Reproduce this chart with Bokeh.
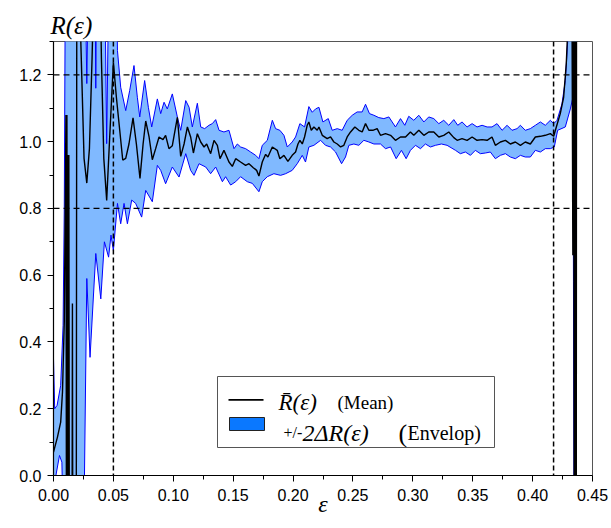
from bokeh.plotting import figure
from bokeh.models import Span, BoxAnnotation, Label, FixedTicker, NumeralTickFormatter, Range1d, Title
from bokeh.embed import file_html
from bokeh.resources import INLINE

# ---------------- data ----------------
mean_x = [0.0000, 0.0033, 0.0060, 0.0075, 0.0090, 0.0100, 0.0104, 0.0108, 0.0112, 0.0116,
          0.0120, 0.0124, 0.0128, 0.0132, 0.0155, 0.0158, 0.0161, 0.0190, 0.0196, 0.0215,
          0.0228, 0.0255, 0.0278, 0.0300, 0.0322, 0.0345, 0.0385, 0.0400, 0.0420, 0.0444,
          0.0470, 0.0500, 0.0525, 0.0553, 0.0578, 0.0603, 0.0630, 0.0664, 0.0692, 0.0722,
          0.0748, 0.0770, 0.0798, 0.0825, 0.0853, 0.0881, 0.0914, 0.0936, 0.0964, 0.0992,
          0.1034, 0.1062, 0.1090, 0.1118, 0.1145, 0.1168, 0.1201, 0.1229, 0.1257, 0.1279,
          0.1312, 0.1340, 0.1368, 0.1390, 0.1423, 0.1465, 0.1493, 0.1521, 0.1562, 0.1604,
          0.1632, 0.1668, 0.1696, 0.1715, 0.1743, 0.1771, 0.1790, 0.1827, 0.1868, 0.1890,
          0.1924, 0.1957, 0.1993, 0.2021, 0.2041, 0.2057, 0.2077, 0.2096, 0.2118, 0.2132,
          0.2152, 0.2174, 0.2202, 0.2216, 0.2244, 0.2285, 0.2313, 0.2341, 0.2369, 0.2397,
          0.2424, 0.2452, 0.2480, 0.2516, 0.2549, 0.2577, 0.2605, 0.2633, 0.2666, 0.2702,
          0.2730, 0.2772, 0.2814, 0.2855, 0.2897, 0.2939, 0.2980, 0.3008, 0.3050, 0.3092,
          0.3133, 0.3175, 0.3217, 0.3258, 0.3300, 0.3342, 0.3370, 0.3411, 0.3453, 0.3495,
          0.3536, 0.3578, 0.3620, 0.3661, 0.3689, 0.3731, 0.3773, 0.3814, 0.3856, 0.3898,
          0.3939, 0.3981, 0.4023, 0.4065, 0.4106, 0.4148, 0.4176, 0.4198, 0.4231, 0.4259,
          0.4281, 0.4301, 0.4325, 0.4336, 0.4342, 0.4348, 0.4352, 0.4356, 0.4360, 0.4364,
          0.4368]
mean_y = [0.070, 0.115, 0.160, 0.250, 0.460, 0.900, 1.080, -0.200, 1.080, -0.200,
          0.960, -0.200, 0.960, -0.200, -0.200, 0.515, -0.200, -0.200, 2.000, 2.000,
          1.300, 0.950, 0.876, 0.980, 1.250, 1.600, 1.600, 1.250, 0.950, 0.824,
          1.020, 1.238, 1.133, 1.034, 0.945, 0.950, 0.993, 1.071, 0.993, 0.890,
          0.993, 1.062, 1.014, 0.946, 0.979, 1.014, 1.006, 1.019, 0.979, 0.988,
          1.073, 0.956, 0.993, 1.044, 1.014, 0.966, 1.024, 0.999, 0.984, 0.993,
          0.964, 1.004, 0.989, 0.949, 0.974, 0.939, 0.926, 0.949, 0.939, 0.929,
          0.934, 0.922, 0.914, 0.897, 0.939, 0.962, 0.954, 0.984, 0.974, 0.949,
          0.959, 0.941, 0.959, 0.969, 0.993, 1.004, 0.993, 1.014, 1.049, 1.059,
          1.034, 1.044, 1.034, 1.044, 1.019, 1.009, 1.014, 0.999, 0.993, 0.984,
          0.989, 1.014, 1.029, 1.044, 1.034, 1.029, 1.054, 1.034, 1.034, 1.039,
          1.019, 1.024, 1.019, 1.004, 1.014, 1.014, 1.029, 1.019, 1.034, 1.019,
          1.029, 1.029, 1.014, 1.019, 1.029, 1.012, 1.004, 1.009, 1.004, 1.014,
          1.004, 1.006, 1.004, 1.014, 0.989, 0.999, 1.004, 0.993, 0.999, 0.989,
          0.999, 0.993, 1.014, 1.016, 1.019, 1.024, 1.016, 1.044, 1.084, 1.133,
          1.233, 1.400, 1.800, 0.660, 1.800, -0.500, 2.500, -0.500, 2.500, -0.500,
          2.500]

upper_x = [0.0000, 0.0010, 0.0030, 0.0060, 0.0080, 0.0090, 0.0100, 0.0260, 0.0278, 0.0295,
           0.0345, 0.0353, 0.0362, 0.0425, 0.0444, 0.0465, 0.0520, 0.0534, 0.0561, 0.0603,
           0.0636, 0.0672, 0.0700, 0.0720, 0.0761, 0.0792, 0.0820, 0.0867, 0.0895, 0.0923,
           0.0950, 0.0992, 0.1034, 0.1062, 0.1104, 0.1132, 0.1159, 0.1201, 0.1229, 0.1262,
           0.1298, 0.1326, 0.1354, 0.1382, 0.1423, 0.1465, 0.1507, 0.1535, 0.1562, 0.1604,
           0.1646, 0.1688, 0.1715, 0.1743, 0.1785, 0.1827, 0.1854, 0.1890, 0.1924, 0.1952,
           0.1993, 0.2021, 0.2057, 0.2096, 0.2132, 0.2160, 0.2188, 0.2216, 0.2249, 0.2294,
           0.2327, 0.2369, 0.2410, 0.2452, 0.2494, 0.2535, 0.2577, 0.2605, 0.2638, 0.2675,
           0.2716, 0.2758, 0.2800, 0.2855, 0.2897, 0.2933, 0.2966, 0.3008, 0.3050, 0.3092,
           0.3133, 0.3175, 0.3217, 0.3258, 0.3300, 0.3342, 0.3375, 0.3411, 0.3453, 0.3495,
           0.3536, 0.3578, 0.3620, 0.3661, 0.3703, 0.3745, 0.3787, 0.3828, 0.3870, 0.3898,
           0.3939, 0.3981, 0.4023, 0.4065, 0.4106, 0.4148, 0.4176, 0.4204, 0.4245, 0.4273,
           0.4293, 0.4310, 0.4370]
upper_y = [0.350, 0.200, 0.210, 0.270, 0.450, 0.800, 1.600, 1.600, 1.174, 1.600,
           1.600, 1.160, 1.600, 1.600, 0.994, 1.600, 1.600, 1.273, 1.163, 1.093,
           1.153, 1.228, 1.133, 1.074, 1.183, 1.103, 1.044, 1.128, 1.084, 1.118,
           1.098, 1.143, 1.074, 1.034, 1.123, 1.103, 1.044, 1.115, 1.044, 1.039,
           1.049, 1.054, 1.066, 1.034, 1.029, 1.034, 0.979, 0.993, 0.984, 0.979,
           0.969, 0.959, 0.949, 0.989, 1.004, 1.064, 1.039, 1.034, 1.019, 0.984,
           0.999, 1.014, 1.054, 1.044, 1.105, 1.088, 1.098, 1.103, 1.059, 1.069,
           1.034, 1.039, 1.034, 1.064, 1.079, 1.089, 1.089, 1.112, 1.084, 1.079,
           1.072, 1.069, 1.074, 1.044, 1.069, 1.049, 1.076, 1.064, 1.079, 1.059,
           1.074, 1.069, 1.054, 1.064, 1.049, 1.066, 1.049, 1.059, 1.044, 1.054,
           1.044, 1.049, 1.044, 1.044, 1.054, 1.034, 1.049, 1.034, 1.039, 1.049,
           1.034, 1.039, 1.049, 1.059, 1.049, 1.064, 1.054, 1.064, 1.113, 1.183,
           1.300, 1.600, 1.600]

lower_x = [0.0000, 0.0020, 0.0050, 0.0070, 0.0085, 0.0252, 0.0278, 0.0305, 0.0353, 0.0395,
           0.0425, 0.0460, 0.0480, 0.0500, 0.0534, 0.0561, 0.0589, 0.0617, 0.0653, 0.0686,
           0.0736, 0.0770, 0.0825, 0.0867, 0.0895, 0.0936, 0.0992, 0.1048, 0.1104, 0.1145,
           0.1173, 0.1215, 0.1271, 0.1312, 0.1354, 0.1410, 0.1437, 0.1479, 0.1521, 0.1562,
           0.1618, 0.1660, 0.1715, 0.1743, 0.1785, 0.1840, 0.1896, 0.1938, 0.1993, 0.2035,
           0.2077, 0.2104, 0.2132, 0.2174, 0.2230, 0.2271, 0.2313, 0.2355, 0.2405, 0.2438,
           0.2466, 0.2508, 0.2549, 0.2591, 0.2633, 0.2675, 0.2730, 0.2772, 0.2814, 0.2861,
           0.2905, 0.2944, 0.2980, 0.3022, 0.3064, 0.3105, 0.3147, 0.3189, 0.3239, 0.3286,
           0.3356, 0.3397, 0.3439, 0.3481, 0.3522, 0.3564, 0.3606, 0.3647, 0.3689, 0.3731,
           0.3773, 0.3814, 0.3856, 0.3898, 0.3939, 0.3981, 0.4023, 0.4065, 0.4106, 0.4148,
           0.4181, 0.4209, 0.4273, 0.4315, 0.4337, 0.4341, 0.4348, 0.4370]
lower_y = [0.000, 0.000, 0.060, 0.040, -0.200, -0.200, 0.590, 0.354, 0.665, 0.529,
           0.700, 0.654, 0.720, 0.674, 0.815, 0.754, 0.815, 0.754, 0.825, 0.815,
           0.774, 0.854, 0.820, 0.929, 0.914, 0.874, 0.924, 0.894, 0.964, 0.914,
           0.899, 0.934, 0.924, 0.904, 0.924, 0.880, 0.895, 0.870, 0.880, 0.895,
           0.880, 0.875, 0.850, 0.880, 0.895, 0.904, 0.899, 0.904, 0.914, 0.934,
           0.959, 0.939, 0.984, 0.989, 1.004, 0.989, 0.984, 0.969, 0.934, 0.954,
           0.989, 0.993, 0.989, 1.004, 0.999, 0.993, 0.993, 0.979, 0.984, 0.949,
           0.974, 0.949, 0.974, 0.989, 0.979, 0.993, 0.984, 0.989, 0.993, 0.989,
           0.974, 0.964, 0.969, 0.959, 0.974, 0.964, 0.966, 0.969, 0.949, 0.959,
           0.964, 0.954, 0.949, 0.959, 0.954, 0.954, 0.974, 0.969, 0.979, 0.979,
           0.984, 1.034, 1.044, 1.098, 1.133, 0.580, -0.500, -0.500]

hlines = [0.8, 1.2]
vlines = [0.05, 0.4175]

x_ticks = [0.00, 0.05, 0.10, 0.15, 0.20, 0.25, 0.30, 0.35, 0.40, 0.45]
x_minor = [0.025, 0.075, 0.125, 0.175, 0.225, 0.275, 0.325, 0.375, 0.425]
y_ticks = [0.0, 0.2, 0.4, 0.6, 0.8, 1.0, 1.2]
y_minor = [0.1, 0.3, 0.5, 0.7, 0.9, 1.1, 1.3]

X_MAX, Y_MAX = 0.45, 1.3

# ---------------- layout (page pixels) ----------------
W, H = 611, 528
F_LEFT, F_RIGHT, F_TOP, F_BOTTOM = 53.0, 592.0, 41.0, 475.0   # frame on the page


def dx(px):
    return (px - F_LEFT) / (F_RIGHT - F_LEFT) * X_MAX


def dy(py):
    return (F_BOTTOM - py) / (F_BOTTOM - F_TOP) * Y_MAX


p = figure(width=W, height=H, output_backend="svg", toolbar_location=None,
           x_range=Range1d(0, X_MAX), y_range=Range1d(0, Y_MAX),
           min_border_left=int(F_LEFT), min_border_right=int(W - F_RIGHT),
           min_border_top=int(F_TOP), min_border_bottom=int(H - F_BOTTOM))
p.title = Title(text="R(\u03b5)", align="left", offset=-3, standoff=6,
                text_font="Liberation Serif", text_font_style="italic",
                text_font_size="25px", text_color="black")
p.xgrid.visible = False
p.ygrid.visible = False
p.background_fill_color = "white"
p.border_fill_color = "white"
p.outline_line_color = "#555555"
p.outline_line_width = 1

for ax, ticks, minor, fmt in ((p.xaxis[0], x_ticks, x_minor, "0.00"),
                              (p.yaxis[0], y_ticks, y_minor, "0.0")):
    ax.ticker = FixedTicker(ticks=ticks, minor_ticks=minor)
    ax.formatter = NumeralTickFormatter(format=fmt)
    ax.axis_line_color = "black"
    ax.axis_line_width = 1.2
    ax.major_tick_line_color = "black"
    ax.minor_tick_line_color = "black"
    ax.major_tick_out = 6
    ax.major_tick_in = 0
    ax.minor_tick_out = 4
    ax.minor_tick_in = 0
    ax.major_label_text_font = "Liberation Sans"
    ax.major_label_text_font_size = "16px"
    ax.major_label_text_color = "black"
p.xaxis.major_label_standoff = 7
p.yaxis.major_label_standoff = 6
p.xaxis.axis_label = "\u03b5"
p.xaxis.axis_label_text_font = "Liberation Serif"
p.xaxis.axis_label_text_font_style = "italic"
p.xaxis.axis_label_text_font_size = "24px"
p.xaxis.axis_label_text_color = "black"
p.xaxis.axis_label_standoff = -13

# envelope band
band_x = upper_x + lower_x[::-1]
band_y = upper_y + lower_y[::-1]
p.patch(band_x, band_y, fill_color="#80b9ff", line_color=None)
p.line(upper_x, upper_y, line_color="#0000ff", line_width=1)
p.line(lower_x, lower_y, line_color="#0000ff", line_width=1)
p.line(mean_x, mean_y, line_color="black", line_width=1.4)

for h in hlines:
    p.add_layout(Span(location=h, dimension="width", line_color="black",
                      line_dash="6 4", line_width=1.3))
for v in vlines:
    p.add_layout(Span(location=v, dimension="height", line_color="black",
                      line_dash="5 3", line_width=1.5))

# legend
p.add_layout(BoxAnnotation(left=dx(217), right=dx(494), top=dy(376), bottom=dy(447),
                           fill_color="white", fill_alpha=1, line_color="#555555",
                           line_width=1, line_alpha=1))
p.add_layout(BoxAnnotation(left=dx(228), right=dx(263), top=dy(398.6), bottom=dy(400.2),
                           fill_color="black", fill_alpha=1, line_color=None))
p.add_layout(BoxAnnotation(left=dx(229), right=dx(264), top=dy(417), bottom=dy(430),
                           fill_color="#0a78ff", fill_alpha=1, line_color="#222222",
                           line_width=1, line_alpha=1))

legend_texts = [
    (278, 402, "R\u0304(\u03b5)", "italic", "23px"),
    (337, 402, "(Mean)", "normal", "19px"),
    (283, 432, "+/-", "normal", "16px"),
    (302, 432, "2\u0394R(\u03b5)", "italic", "24px"),
    (398, 433, "(", "normal", "26px"),
    (407, 432, "Envelop)", "normal", "20px"),
]
for px, py, txt, style, size in legend_texts:
    p.add_layout(Label(x=dx(px), y=dy(py), text=txt, text_font="Liberation Serif",
                       text_font_style=style, text_font_size=size, text_color="black",
                       text_baseline="alphabetic"))

open("out.html", "w").write(file_html(p, INLINE))
